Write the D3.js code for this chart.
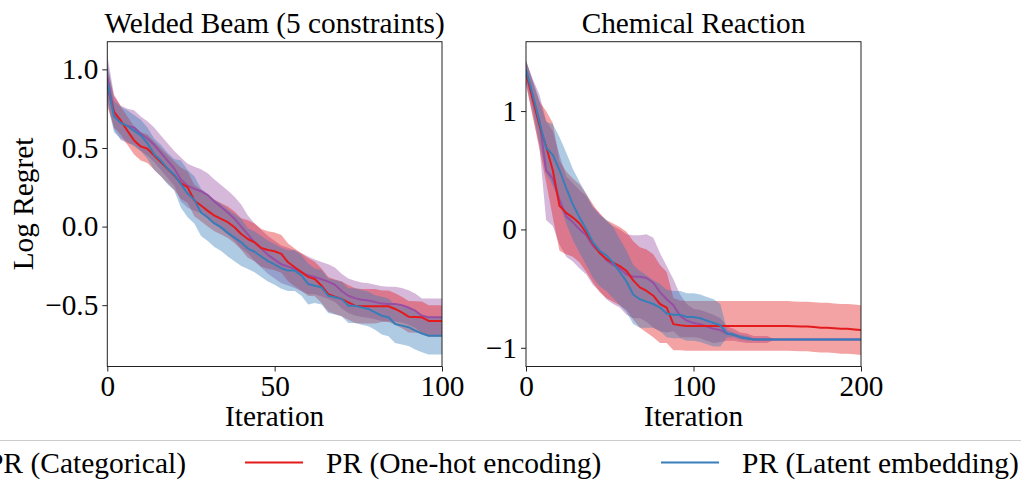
<!DOCTYPE html>
<html><head><meta charset="utf-8">
<script src="https://cdn.jsdelivr.net/npm/d3@7"></script>
<style>
body{margin:0;background:#fff;}
text{font-family:"Liberation Serif","Times New Roman",Times,serif;}
</style>
</head><body><svg id="c" width="1021" height="485"></svg>
<script>
// ---------------- DATA ----------------
const seriesNames = ["PR (Categorical)", "PR (One-hot encoding)", "PR (Latent embedding)"];

// Welded Beam (5 constraints)
const welded_iter = [0,2,4,6,8,10,12,14,16,18,20,22,24,26,28,30,32,34,36,38,40,42,44,46,48,50,52,54,56,58,60,62,64,66,68,70,72,74,76,78,80,82,84,86,88,90,92,94,96,98,100];
const welded_cat_mean = [0.95,0.73,0.66,0.64,0.63,0.59,0.56,0.52,0.47,0.42,
  0.37,0.30,0.26,0.24,0.225,0.20,0.16,0.125,0.09,0.05,
  0.0,-0.05,-0.10,-0.14,-0.18,-0.21,-0.24,-0.255,-0.27,-0.29,
  -0.31,-0.32,-0.335,-0.35,-0.37,-0.41,-0.44,-0.455,-0.465,-0.47,
  -0.48,-0.49,-0.493,-0.493,-0.50,-0.515,-0.535,-0.567,-0.577,-0.577,-0.577];
const welded_cat_spread = [0.14,0.11,0.11,0.11,0.11,0.11,0.11,0.11,0.11,0.11,
  0.11,0.14,0.14,0.14,0.14,0.14,0.14,0.14,0.14,0.14,
  0.14,0.12,0.12,0.12,0.12,0.12,0.12,0.12,0.12,0.12,
  0.12,0.11,0.11,0.11,0.11,0.11,0.11,0.11,0.11,0.11,
  0.11,0.11,0.11,0.11,0.11,0.11,0.11,0.11,0.12,0.12,0.12];
const welded_onehot_mean = [0.887,0.73,0.675,0.61,0.548,0.51,0.495,0.452,0.41,0.367,
  0.325,0.276,0.25,0.166,0.134,0.10,0.07,0.049,0.028,-0.004,
  -0.047,-0.079,-0.10,-0.136,-0.149,-0.157,-0.174,-0.227,-0.259,-0.29,
  -0.32,-0.333,-0.376,-0.43,-0.446,-0.46,-0.482,-0.503,-0.507,-0.507,
  -0.507,-0.507,-0.507,-0.524,-0.546,-0.573,-0.575,-0.577,-0.6,-0.6,-0.6];
const welded_onehot_spread = [0.12,0.10,0.09,0.09,0.09,0.09,0.09,0.09,0.09,0.09,
  0.09,0.10,0.10,0.10,0.10,0.10,0.10,0.10,0.10,0.10,
  0.10,0.12,0.12,0.12,0.12,0.12,0.12,0.12,0.12,0.12,
  0.12,0.11,0.11,0.11,0.11,0.11,0.11,0.11,0.11,0.11,
  0.11,0.10,0.10,0.10,0.10,0.10,0.10,0.10,0.10,0.10,0.10];
const welded_latent_mean = [0.92,0.70,0.66,0.64,0.61,0.58,0.53,0.46,0.42,0.37,
  0.33,0.27,0.21,0.17,0.09,0.058,0.02,-0.005,-0.04,-0.07,
  -0.10,-0.14,-0.16,-0.19,-0.22,-0.24,-0.265,-0.28,-0.28,-0.31,
  -0.365,-0.376,-0.386,-0.44,-0.45,-0.46,-0.503,-0.503,-0.514,-0.524,
  -0.546,-0.567,-0.577,-0.62,-0.63,-0.64,-0.662,-0.68,-0.694,-0.694,-0.694];
const welded_latent_spread = [0.13,0.10,0.10,0.10,0.10,0.10,0.10,0.10,0.10,0.10,
  0.10,0.15,0.15,0.15,0.15,0.15,0.15,0.15,0.15,0.15,
  0.15,0.13,0.13,0.13,0.13,0.13,0.13,0.13,0.13,0.13,
  0.13,0.11,0.11,0.11,0.11,0.11,0.11,0.11,0.11,0.11,
  0.11,0.12,0.12,0.12,0.12,0.12,0.12,0.12,0.12,0.12,0.12];
const welded_xticks = [0, 50, 100];
const welded_xtick_labels = ["0", "50", "100"];
const welded_yticks = [-0.5, 0.0, 0.5, 1.0];
const welded_ytick_labels = ["\u22120.5", "0.0", "0.5", "1.0"];

// Chemical Reaction
const chem_iter = [0,4,8,12,16,20,24,28,32,36,40,44,48,52,56,60,64,68,72,76,80,84,88,92,96,100,104,108,112,116,120,124,128,132,136,140,144,148,152,156,160,164,168,172,176,180,184,188,192,196,200];
const chem_cat_mean = [1.32,1.12,0.92,0.50,0.43,0.25,0.11,0.06,0.0,-0.05,
  -0.14,-0.19,-0.26,-0.30,-0.33,-0.38,-0.40,-0.40,-0.41,-0.45,
  -0.53,-0.59,-0.64,-0.73,-0.77,-0.79,-0.80,-0.82,-0.84,-0.85,
  -0.88,-0.89,-0.91,-0.92,-0.93,-0.93,-0.93,-0.93,-0.93,-0.93,
  -0.93,-0.93,-0.93,-0.93,-0.93,-0.93,-0.93,-0.93,-0.93,-0.93,-0.93];
const chem_cat_spread = [0.10,0.15,0.22,0.42,0.40,0.38,0.34,0.33,0.33,0.33,
  0.33,0.33,0.33,0.33,0.33,0.34,0.35,0.35,0.37,0.38,
  0.33,0.28,0.22,0.18,0.14,0.12,0.12,0.12,0.12,0.10,
  0.06,0.05,0.04,0.04,0.03,0.03,0.03,0.005,0.005,0.005,
  0.005,0.005,0.005,0.005,0.005,0.005,0.005,0.005,0.005,0.005,0.005];
const chem_onehot_mean = [1.33,1.10,0.88,0.70,0.50,0.20,0.14,0.10,0.05,-0.03,
  -0.12,-0.20,-0.25,-0.28,-0.31,-0.35,-0.43,-0.49,-0.52,-0.56,
  -0.63,-0.66,-0.80,-0.81,-0.815,-0.815,-0.815,-0.815,-0.815,-0.815,
  -0.815,-0.815,-0.815,-0.815,-0.815,-0.815,-0.815,-0.815,-0.815,-0.815,
  -0.818,-0.82,-0.82,-0.825,-0.83,-0.83,-0.835,-0.84,-0.84,-0.845,-0.85];
const chem_onehot_spread = [0.10,0.15,0.20,0.30,0.40,0.38,0.35,0.33,0.33,0.33,
  0.33,0.33,0.33,0.33,0.33,0.33,0.33,0.34,0.35,0.35,
  0.33,0.30,0.22,0.21,0.21,0.21,0.21,0.21,0.21,0.21,
  0.21,0.21,0.21,0.21,0.21,0.21,0.21,0.21,0.21,0.21,
  0.21,0.21,0.21,0.21,0.21,0.21,0.21,0.21,0.21,0.21,0.21];
const chem_latent_mean = [1.35,1.14,0.91,0.69,0.63,0.50,0.35,0.21,0.10,0.0,
  -0.11,-0.18,-0.22,-0.28,-0.36,-0.44,-0.55,-0.59,-0.61,-0.63,
  -0.66,-0.71,-0.72,-0.72,-0.74,-0.74,-0.75,-0.77,-0.79,-0.81,
  -0.88,-0.89,-0.91,-0.92,-0.93,-0.93,-0.93,-0.93,-0.93,-0.93,
  -0.93,-0.93,-0.93,-0.93,-0.93,-0.93,-0.93,-0.93,-0.93,-0.93,-0.93];
const chem_latent_spread = [0.08,0.12,0.18,0.22,0.26,0.28,0.30,0.30,0.30,0.30,
  0.30,0.30,0.30,0.30,0.28,0.26,0.25,0.24,0.22,0.20,
  0.20,0.20,0.20,0.20,0.20,0.20,0.20,0.20,0.20,0.18,
  0.03,0.02,0.02,0.02,0.01,0.01,0.01,0.01,0.01,0.01,
  0.01,0.01,0.01,0.01,0.01,0.01,0.01,0.01,0.01,0.01,0.01];
const chem_xticks = [0, 100, 200];
const chem_xtick_labels = ["0", "100", "200"];
const chem_yticks = [-1, 0, 1];
const chem_ytick_labels = ["\u22121", "0", "1"];

// ---------------- DRAW ----------------
const W = 1021, H = 485, FS = 29.3, LFS = 29.5;
const colors = ["#984ea3", "#e41a1c", "#377eb8"];
const svg = d3.select("#c");
svg.append("rect").attr("width", W).attr("height", H).attr("fill", "#fff");

function build(iter, means, spreads) {
  return means.map((m, k) => iter.map((it, i) => ({x: it, m: m[i], s: spreads[k][i]})));
}

function panel(cfg, id) {
  const x = d3.scaleLinear().domain(cfg.xdom).range([cfg.left, cfg.right]);
  const y = d3.scaleLinear().domain(cfg.ydom).range([cfg.bottom, cfg.top]);
  svg.append("clipPath").attr("id", id).append("rect")
    .attr("x", cfg.left).attr("y", cfg.top)
    .attr("width", cfg.right - cfg.left).attr("height", cfg.bottom - cfg.top);
  const g = svg.append("g").attr("clip-path", `url(#${id})`);
  const area = d3.area().curve(d3.curveLinear)
    .x(d => x(d.x)).y0(d => y(d.m - d.s)).y1(d => y(d.m + d.s));
  const line = d3.line().curve(d3.curveLinear).x(d => x(d.x)).y(d => y(d.m));
  cfg.data.forEach((ser, k) => {
    g.append("path").attr("d", area(ser)).attr("fill", colors[k]).attr("fill-opacity", 0.4).attr("stroke", "none");
  });
  cfg.data.forEach((ser, k) => {
    g.append("path").attr("d", line(ser)).attr("fill", "none").attr("stroke", colors[k])
      .attr("stroke-width", 2).attr("stroke-linejoin", "round");
  });
  const ax = svg.append("g").attr("transform", `translate(0,${cfg.bottom})`)
    .call(d3.axisBottom(x).tickValues(cfg.xticks).tickSize(5).tickPadding(4)
      .tickFormat((d, i) => cfg.xlabels[i]));
  const ay = svg.append("g").attr("transform", `translate(${cfg.left},0)`)
    .call(d3.axisLeft(y).tickValues(cfg.yticks).tickSize(5).tickPadding(4)
      .tickFormat((d, i) => cfg.ylabels[i]));
  [ax, ay].forEach(a => {
    a.select(".domain").remove();
    a.selectAll("line").attr("stroke", "#222").attr("stroke-width", 1);
    a.selectAll("text").attr("font-size", FS).attr("fill", "#000")
      .attr("font-family", '"Liberation Serif","Times New Roman",serif');
  });
  svg.append("rect").attr("x", cfg.left).attr("y", cfg.top)
    .attr("width", cfg.right - cfg.left).attr("height", cfg.bottom - cfg.top)
    .attr("fill", "none").attr("stroke", "#222").attr("stroke-width", 1);
  svg.append("text").attr("x", (cfg.left + cfg.right) / 2).attr("y", 33)
    .attr("text-anchor", "middle").attr("font-size", FS).text(cfg.title);
  svg.append("text").attr("x", (cfg.left + cfg.right) / 2).attr("y", 426)
    .attr("text-anchor", "middle").attr("font-size", FS).text("Iteration");
}

panel({
  left: 107.3, right: 442, top: 41.7, bottom: 366.5,
  xdom: [0, 100], ydom: [-0.89, 1.176],
  xticks: welded_xticks, xlabels: welded_xtick_labels,
  yticks: welded_yticks, ylabels: welded_ytick_labels,
  title: "Welded Beam (5 constraints)",
  data: build(welded_iter,
    [welded_cat_mean, welded_onehot_mean, welded_latent_mean],
    [welded_cat_spread, welded_onehot_spread, welded_latent_spread])
}, "clipA");

panel({
  left: 526, right: 861, top: 41.7, bottom: 366.5,
  xdom: [0, 200], ydom: [-1.158, 1.586],
  xticks: chem_xticks, xlabels: chem_xtick_labels,
  yticks: chem_yticks, ylabels: chem_ytick_labels,
  title: "Chemical Reaction",
  data: build(chem_iter,
    [chem_cat_mean, chem_onehot_mean, chem_latent_mean],
    [chem_cat_spread, chem_onehot_spread, chem_latent_spread])
}, "clipB");

svg.append("text").attr("transform", "translate(33,204) rotate(-90)")
  .attr("text-anchor", "middle").attr("font-size", FS).text("Log Regret");

// legend
const leg = svg.append("g");
leg.append("rect").attr("x", -200).attr("y", 440.5).attr("width", 1450).attr("height", 100)
  .attr("rx", 4).attr("fill", "#fff").attr("stroke", "#cccccc").attr("stroke-width", 1);
const handleLen = 58, handlePad = 23, legY = 462.5;
const w0 = (() => {
  const t = leg.append("text").attr("font-size", LFS).text(seriesNames[0]);
  const w = t.node().getComputedTextLength(); t.remove(); return w;
})();
const handleStarts = [186 - w0 - handlePad - handleLen, 245, 661];
seriesNames.forEach((n, k) => {
  leg.append("line").attr("x1", handleStarts[k]).attr("x2", handleStarts[k] + handleLen)
    .attr("y1", legY).attr("y2", legY).attr("stroke", colors[k]).attr("stroke-width", 2);
  leg.append("text").attr("x", handleStarts[k] + handleLen + handlePad).attr("y", 472.5)
    .attr("font-size", LFS).text(n);
});
</script>
</body></html>
